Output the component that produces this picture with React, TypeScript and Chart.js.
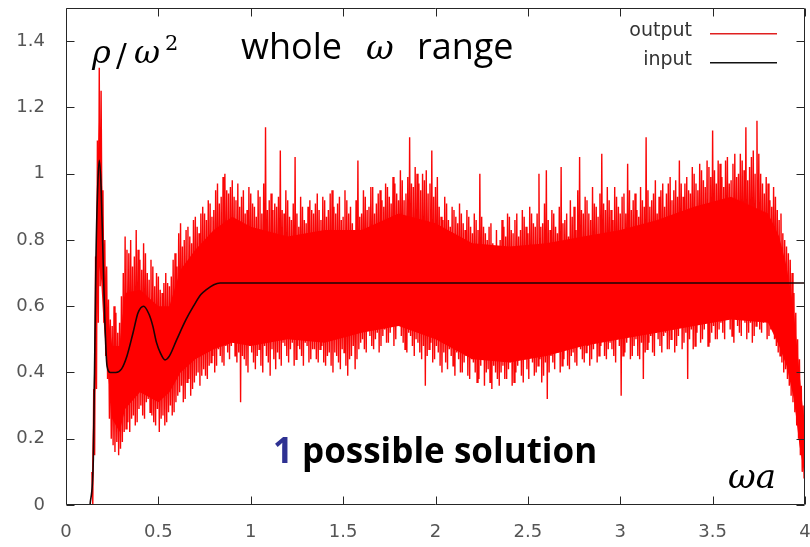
import React, { useEffect, useRef } from "react";
import { Chart, registerables } from "chart.js";

Chart.register(...registerables);

// ---- axis ticks ----
const X_TICKS = [0, 0.5, 1, 1.5, 2, 2.5, 3, 3.5, 4];
const Y_TICKS = [0, 0.2, 0.4, 0.6, 0.8, 1, 1.2, 1.4];
const X_MIN = 0;
const X_MAX = 4;
const Y_MIN = 0;
const Y_MAX = 1.5;

// ---- input (black) ----
const INPUT_X = [
  0.13, 0.148, 0.162, 0.171, 0.18, 0.19, 0.2, 0.21, 0.222, 0.24, 0.27, 0.3, 0.33,
  0.363, 0.39, 0.42, 0.45, 0.47, 0.49, 0.51, 0.536, 0.56, 0.6, 0.65, 0.69, 0.73,
  0.76, 0.8, 0.834, 4.0,
];
const INPUT_Y = [
  0, 0.14, 0.74, 0.95, 1.04, 0.96, 0.76, 0.56, 0.42, 0.4, 0.4, 0.41, 0.45,
  0.52, 0.58, 0.6, 0.575, 0.54, 0.49, 0.46, 0.438, 0.45, 0.5, 0.56, 0.6, 0.635,
  0.65, 0.665, 0.67, 0.67,
];

// ---- output (red): dense core of the noisy band ----
const CORE_X = [
  0.14, 0.16, 0.17, 0.18, 0.19, 0.2, 0.22, 0.25, 0.29, 0.32, 0.4, 0.5, 0.56, 0.62,
  0.7, 0.8, 0.9, 1.0, 1.2, 1.4, 1.6, 1.8, 2.0, 2.2, 2.4, 2.6, 2.8, 3.0, 3.2, 3.4,
  3.6, 3.8, 3.86, 3.9, 3.94, 3.97, 4.0,
];
const CORE_HIGH = [
  0.05, 0.65, 1.0, 1.18, 1.05, 0.88, 0.6, 0.48, 0.48, 0.64, 0.65, 0.6, 0.6, 0.71,
  0.77, 0.83, 0.87, 0.84, 0.81, 0.83, 0.83, 0.88, 0.85, 0.79, 0.78, 0.79, 0.81, 0.83,
  0.86, 0.9, 0.93, 0.88, 0.81, 0.72, 0.58, 0.4, 0.22,
];
const CORE_LOW = [
  0.0, 0.4, 0.6, 0.72, 0.68, 0.58, 0.44, 0.26, 0.22, 0.29, 0.34, 0.31, 0.34, 0.4,
  0.44, 0.47, 0.49, 0.48, 0.5, 0.49, 0.52, 0.54, 0.5, 0.44, 0.43, 0.45, 0.48, 0.5,
  0.52, 0.54, 0.56, 0.55, 0.48, 0.42, 0.32, 0.18, 0.08,
];

// ---- output (red): spikes, sampled every 0.01 in x (upper and lower swing) ----
// set A at x = 0.14, 0.16, ... 4.00; set B at x = 0.15, 0.17, ... 3.99
const OUTPUT_X_START = 0.14;
const OUTPUT_X_STEP = 0.02;
const OUTPUT_HIGH_A = [
  0.10, 0.75, 1.32, 0.95, 0.72, 0.56, 0.60, 0.52, 0.63, 0.81,
  0.76, 0.72, 0.83, 0.74, 0.79, 0.70, 0.74, 0.66, 0.69, 0.64,
  0.70, 0.66, 0.74, 0.72, 0.85, 0.80, 0.84, 0.79, 0.87, 0.82,
  0.90, 0.86, 0.91, 0.89, 0.97, 0.93, 1.00, 0.94, 0.98, 0.92,
  0.90, 0.95, 0.89, 0.94, 0.90, 0.95, 0.88, 1.14, 0.92, 0.89,
  0.90, 1.07, 0.88, 0.92, 0.86, 1.05, 0.84, 0.90, 0.85, 0.92,
  0.88, 0.94, 0.86, 0.92, 0.89, 0.95, 0.88, 0.93, 0.87, 0.92,
  0.90, 0.80, 1.04, 0.88, 0.93, 0.90, 0.96, 0.91, 0.95, 0.90,
  0.96, 0.91, 0.97, 0.92, 0.98, 0.94, 1.11, 0.96, 1.00, 0.95,
  0.98, 0.94, 1.07, 0.96, 0.90, 0.86, 0.91, 0.84, 0.89, 0.85,
  0.88, 0.83, 0.87, 0.82, 0.86, 1.00, 0.84, 0.80, 0.85, 0.78,
  0.74, 0.86, 0.81, 0.87, 0.82, 0.88, 0.83, 0.87, 0.82, 0.88,
  0.84, 1.00, 0.85, 1.01, 0.83, 0.88, 0.82, 1.02, 0.86, 0.81,
  0.87, 0.83, 1.05, 0.88, 0.92, 0.86, 0.91, 0.87, 1.06, 0.89,
  0.92, 0.86, 0.93, 0.88, 0.94, 1.03, 0.89, 0.94, 0.87, 0.92,
  1.11, 0.90, 0.94, 0.88, 0.95, 0.90, 0.97, 0.92, 0.98, 1.04,
  0.93, 0.99, 0.94, 1.00, 0.95, 1.01, 0.96, 1.02, 1.13, 0.97,
  1.03, 0.96, 1.05, 0.98, 1.06, 1.00, 1.04, 1.14, 1.02, 1.07,
  1.16, 1.00, 0.94, 0.97, 0.90, 0.93, 0.86, 0.82, 0.78, 0.74,
  0.64, 0.50, 0.36, 0.26,
];
const OUTPUT_LOW_A = [
  0.00, 0.35, 0.66, 0.55, 0.38, 0.20, 0.16, 0.15, 0.19, 0.23,
  0.22, 0.27, 0.25, 0.30, 0.26, 0.32, 0.27, 0.24, 0.22, 0.27,
  0.25, 0.30, 0.28, 0.33, 0.36, 0.32, 0.38, 0.35, 0.39, 0.36,
  0.41, 0.38, 0.43, 0.40, 0.47, 0.43, 0.48, 0.44, 0.49, 0.43,
  0.31, 0.44, 0.40, 0.46, 0.41, 0.47, 0.40, 0.45, 0.39, 0.44,
  0.46, 0.42, 0.48, 0.43, 0.49, 0.44, 0.47, 0.42, 0.48, 0.44,
  0.47, 0.43, 0.48, 0.42, 0.46, 0.40, 0.45, 0.41, 0.46, 0.39,
  0.45, 0.41, 0.47, 0.50, 0.46, 0.51, 0.47, 0.52, 0.48, 0.53,
  0.49, 0.55, 0.50, 0.56, 0.49, 0.46, 0.51, 0.45, 0.49, 0.44,
  0.36, 0.47, 0.43, 0.48, 0.42, 0.46, 0.41, 0.45, 0.39, 0.44,
  0.40, 0.45, 0.38, 0.43, 0.37, 0.42, 0.36, 0.41, 0.35, 0.40,
  0.36, 0.42, 0.38, 0.43, 0.37, 0.42, 0.39, 0.44, 0.38, 0.43,
  0.40, 0.44, 0.39, 0.32, 0.45, 0.41, 0.46, 0.42, 0.47, 0.41,
  0.46, 0.42, 0.47, 0.43, 0.48, 0.44, 0.49, 0.45, 0.50, 0.44,
  0.49, 0.45, 0.50, 0.33, 0.46, 0.51, 0.45, 0.50, 0.44, 0.38,
  0.47, 0.51, 0.45, 0.50, 0.46, 0.52, 0.47, 0.53, 0.48, 0.54,
  0.49, 0.38, 0.53, 0.48, 0.55, 0.50, 0.56, 0.49, 0.54, 0.50,
  0.55, 0.50, 0.56, 0.51, 0.57, 0.52, 0.56, 0.50, 0.55, 0.51,
  0.56, 0.52, 0.56, 0.51, 0.54, 0.48, 0.45, 0.40, 0.38, 0.33,
  0.28, 0.20, 0.10, 0.05,
];
const OUTPUT_HIGH_B = [
  0.35, 1.10, 1.25, 0.80, 0.62, 0.54, 0.58, 0.55, 0.70, 0.77,
  0.80, 0.75, 0.77, 0.71, 0.76, 0.68, 0.72, 0.70, 0.65, 0.67,
  0.67, 0.69, 0.76, 0.82, 0.78, 0.83, 0.81, 0.86, 0.84, 0.88,
  0.88, 0.92, 0.87, 0.95, 0.91, 0.99, 0.95, 0.96, 0.93, 0.97,
  0.93, 0.88, 0.96, 0.91, 0.87, 0.93, 0.97, 0.89, 0.94, 0.91,
  0.93, 0.89, 0.95, 0.87, 0.91, 0.88, 0.93, 0.86, 0.90, 0.89,
  0.91, 0.89, 0.93, 0.87, 0.94, 0.90, 0.91, 0.86, 0.95, 0.88,
  0.85, 0.92, 0.87, 0.95, 0.89, 0.96, 0.88, 0.94, 0.92, 0.97,
  0.93, 0.99, 0.94, 1.01, 0.92, 0.99, 0.97, 1.02, 0.97, 1.00,
  1.01, 0.97, 0.93, 0.99, 0.87, 0.93, 0.86, 0.90, 0.87, 0.91,
  0.85, 0.89, 0.84, 0.88, 0.83, 0.87, 0.82, 0.84, 0.79, 0.83,
  0.80, 0.84, 0.88, 0.83, 0.86, 0.81, 0.89, 0.84, 0.90, 0.85,
  0.88, 0.84, 0.91, 0.86, 0.89, 0.84, 0.90, 0.85, 0.88, 0.92,
  0.90, 0.95, 0.89, 0.93, 0.88, 0.96, 0.90, 0.94, 0.91, 0.96,
  0.89, 0.96, 0.90, 0.93, 0.88, 0.95, 0.92, 0.89, 0.96, 0.90,
  0.95, 0.92, 0.98, 0.93, 0.97, 0.94, 0.99, 0.95, 0.93, 0.97,
  0.97, 0.95, 1.02, 0.97, 1.03, 0.98, 1.04, 0.99, 1.01, 1.04,
  0.99, 1.04, 0.97, 1.03, 0.99, 1.06, 1.01, 0.98, 1.05, 1.00,
  1.06, 0.97, 0.99, 0.92, 0.96, 0.89, 0.88, 0.80, 0.76, 0.70,
  0.58, 0.44, 0.30,
];
const OUTPUT_LOW_B = [
  0.15, 0.55, 0.80, 0.45, 0.26, 0.18, 0.19, 0.17, 0.22, 0.25,
  0.26, 0.24, 0.29, 0.27, 0.31, 0.28, 0.25, 0.29, 0.26, 0.24,
  0.28, 0.27, 0.31, 0.34, 0.31, 0.37, 0.33, 0.37, 0.40, 0.39,
  0.39, 0.42, 0.45, 0.42, 0.45, 0.42, 0.46, 0.48, 0.45, 0.46,
  0.45, 0.42, 0.48, 0.43, 0.45, 0.42, 0.48, 0.43, 0.47, 0.41,
  0.44, 0.49, 0.45, 0.47, 0.42, 0.48, 0.45, 0.49, 0.43, 0.47,
  0.44, 0.47, 0.43, 0.45, 0.42, 0.46, 0.43, 0.47, 0.42, 0.44,
  0.48, 0.44, 0.49, 0.47, 0.53, 0.48, 0.50, 0.46, 0.51, 0.49,
  0.52, 0.48, 0.54, 0.51, 0.47, 0.52, 0.48, 0.50, 0.46, 0.48,
  0.45, 0.49, 0.44, 0.46, 0.40, 0.43, 0.47, 0.42, 0.46, 0.40,
  0.43, 0.39, 0.44, 0.40, 0.38, 0.44, 0.40, 0.37, 0.42, 0.38,
  0.40, 0.38, 0.41, 0.36, 0.40, 0.44, 0.37, 0.41, 0.45, 0.39,
  0.42, 0.37, 0.43, 0.40, 0.43, 0.47, 0.40, 0.44, 0.42, 0.45,
  0.43, 0.48, 0.44, 0.46, 0.42, 0.47, 0.43, 0.48, 0.45, 0.47,
  0.47, 0.43, 0.48, 0.45, 0.49, 0.44, 0.48, 0.45, 0.49, 0.46,
  0.49, 0.46, 0.52, 0.48, 0.51, 0.47, 0.50, 0.46, 0.51, 0.47,
  0.52, 0.50, 0.47, 0.52, 0.49, 0.53, 0.48, 0.52, 0.50, 0.53,
  0.52, 0.57, 0.53, 0.49, 0.54, 0.51, 0.55, 0.52, 0.49, 0.54,
  0.53, 0.55, 0.50, 0.53, 0.50, 0.46, 0.43, 0.41, 0.36, 0.31,
  0.24, 0.15, 0.08,
];

const SERIES_NAMES = ["output", "input"];
const TITLE_TEXT = ["whole", "ω", "range"];
const Y_LABEL = ["ρ", "/", "ω", "2"];
const X_LABEL = "ωa";
const NOTE_NUMBER = "1";
const NOTE_TEXT = "possible solution";

const TICK_FONT = { family: "'DejaVu Sans', sans-serif", size: 18 };

const decorPlugin = {
  id: "decor",
  afterDatasetsDraw(chart: any) {
    const { ctx, chartArea: a, scales } = chart;
    const xs = scales.x;
    const ys = scales.y;
    ctx.save();
    // frame
    const L = Math.round(a.left) + 0.5;
    const R = Math.round(a.right) - 0.5;
    const T = Math.round(a.top) + 0.5;
    const B = Math.round(a.bottom) - 0.5;
    ctx.strokeStyle = "#262626";
    ctx.lineWidth = 1;
    ctx.beginPath();
    ctx.rect(L, T, R - L, B - T);
    // inward tick marks on all four sides
    const TL = 8;
    X_TICKS.forEach((v) => {
      const p = Math.round(xs.getPixelForValue(v)) + 0.5;
      ctx.moveTo(p, B);
      ctx.lineTo(p, B - TL);
      ctx.moveTo(p, T);
      ctx.lineTo(p, T + TL);
    });
    Y_TICKS.forEach((v) => {
      const p = Math.round(ys.getPixelForValue(v)) + 0.5;
      ctx.moveTo(L, p);
      ctx.lineTo(L + TL, p);
      ctx.moveTo(R, p);
      ctx.lineTo(R - TL, p);
    });
    ctx.stroke();

    // legend (top right, gnuplot style)
    ctx.font = "19px 'DejaVu Sans', sans-serif";
    ctx.textAlign = "right";
    ctx.textBaseline = "middle";
    const legendColors = ["#e02020", "#111111"];
    SERIES_NAMES.forEach((name, i) => {
      const y = 33 + i * 29;
      ctx.fillStyle = "#333";
      ctx.fillText(name, 692, y - 2);
      ctx.fillStyle = legendColors[i];
      ctx.fillRect(710, y, 67, 1.5);
    });

    // annotations
    ctx.textAlign = "left";
    ctx.textBaseline = "alphabetic";
    ctx.fillStyle = "#000";
    // y label rho/omega^2
    ctx.font = "italic 32px 'DejaVu Serif', serif";
    ctx.fillText(Y_LABEL[0], 92, 63);
    ctx.font = "32px 'DejaVu Serif', serif";
    ctx.fillText(Y_LABEL[1], 116, 66);
    ctx.font = "italic 32px 'DejaVu Serif', serif";
    ctx.fillText(Y_LABEL[2], 134, 63);
    ctx.font = "21px 'DejaVu Serif', serif";
    ctx.fillText(Y_LABEL[3], 165, 50);

    // title
    ctx.font = "36px 'Open Sans', sans-serif";
    ctx.fillText(TITLE_TEXT[0], 241, 59);
    ctx.font = "italic 34px 'DejaVu Serif', serif";
    ctx.fillText(TITLE_TEXT[1], 366, 59);
    ctx.font = "36px 'Open Sans', sans-serif";
    ctx.fillText(TITLE_TEXT[2], 417, 59);

    // note
    ctx.font = "bold 35px 'Open Sans', sans-serif";
    ctx.fillStyle = "#2e3192";
    ctx.fillText(NOTE_NUMBER, 273, 463);
    ctx.fillStyle = "#000";
    ctx.fillText(NOTE_TEXT, 302, 463);

    // x label
    ctx.font = "italic 34px 'DejaVu Serif', serif";
    ctx.fillText(X_LABEL, 728, 488);
    ctx.restore();
  },
};

export default function App() {
  const ref = useRef<HTMLCanvasElement | null>(null);

  useEffect(() => {
    if (!ref.current) return;
    const spikePoints: { x: number; y: number }[] = [];
    const q = OUTPUT_X_STEP / 4;
    OUTPUT_HIGH_A.forEach((hi, i) => {
      const x = OUTPUT_X_START + OUTPUT_X_STEP * i;
      spikePoints.push({ x, y: hi });
      spikePoints.push({ x: x + q, y: OUTPUT_LOW_A[i] });
      if (i < OUTPUT_HIGH_B.length) {
        spikePoints.push({ x: x + 2 * q, y: OUTPUT_HIGH_B[i] });
        spikePoints.push({ x: x + 3 * q, y: OUTPUT_LOW_B[i] });
      }
    });
    const inputPoints = INPUT_X.map((x, i) => ({ x, y: INPUT_Y[i] }));
    const coreHigh = CORE_X.map((x, i) => ({ x, y: CORE_HIGH[i] }));
    const coreLow = CORE_X.map((x, i) => ({ x, y: CORE_LOW[i] }));

    const chart = new Chart(ref.current, {
      type: "line",
      data: {
        datasets: [
          {
            label: SERIES_NAMES[1],
            data: inputPoints,
            borderColor: "#1a0505",
            borderWidth: 1.6,
            pointRadius: 0,
            cubicInterpolationMode: "monotone",
            fill: false,
            order: 0,
          },
          {
            label: "output core",
            data: coreHigh,
            borderWidth: 0,
            borderColor: "rgba(0,0,0,0)",
            backgroundColor: "#ff0000",
            pointRadius: 0,
            fill: 2,
            order: 1,
          },
          {
            label: "output core low",
            data: coreLow,
            borderWidth: 0,
            borderColor: "rgba(0,0,0,0)",
            pointRadius: 0,
            fill: false,
            order: 1,
          },
          {
            label: SERIES_NAMES[0],
            data: spikePoints,
            borderColor: "#fa0606",
            borderWidth: 1.4,
            pointRadius: 0,
            tension: 0,
            fill: false,
            order: 3,
          },
        ],
      },
      options: {
        responsive: false,
        animation: false,
        events: [],
        layout: { padding: { top: 8, right: 5, left: 0, bottom: 0 } },
        plugins: { legend: { display: false }, tooltip: { enabled: false } },
        scales: {
          x: {
            type: "linear",
            min: X_MIN,
            max: X_MAX,
            afterBuildTicks: (s: any) => {
              s.ticks = X_TICKS.map((v) => ({ value: v }));
            },
            afterFit: (s: any) => {
              s.height = 42;
              s.paddingLeft = 0;
              s.paddingRight = 0;
            },
            ticks: {
              autoSkip: false,
              maxRotation: 0,
              padding: 17,
              color: "#555",
              font: TICK_FONT,
              callback: (v: any) => String(v),
            },
            grid: { display: false, drawTicks: false },
            border: { display: false },
          },
          y: {
            type: "linear",
            min: Y_MIN,
            max: Y_MAX,
            afterBuildTicks: (s: any) => {
              s.ticks = Y_TICKS.map((v) => ({ value: v }));
            },
            afterFit: (s: any) => {
              s.width = 66;
              s.paddingTop = 0;
              s.paddingBottom = 0;
            },
            ticks: {
              autoSkip: false,
              padding: 21,
              color: "#555",
              font: TICK_FONT,
              callback: (v: any) => String(v),
            },
            grid: { display: false, drawTicks: false },
            border: { display: false },
          },
        },
      },
      plugins: [decorPlugin],
    });
    return () => chart.destroy();
  }, []);

  return (
    <div style={{ position: "fixed", left: 0, top: 0, width: 810, height: 547, background: "#fff" }}>
      <canvas ref={ref} width={810} height={547} />
    </div>
  );
}
